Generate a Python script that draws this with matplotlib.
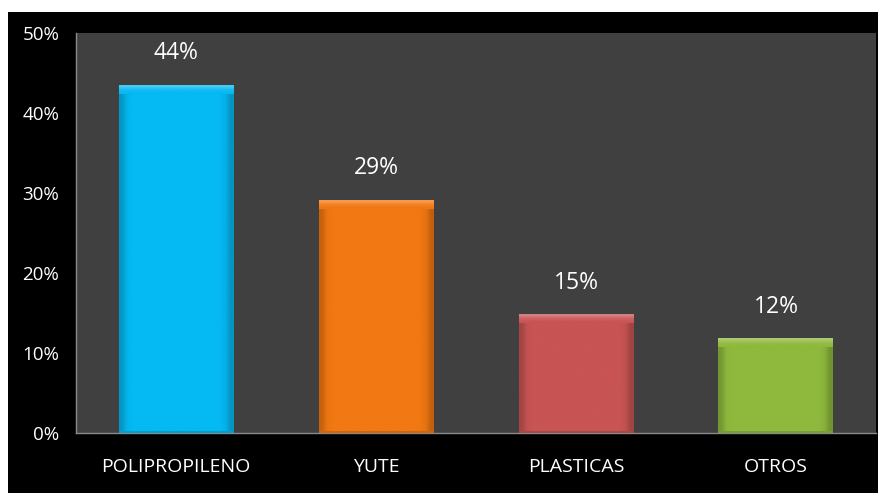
import matplotlib
matplotlib.use('Agg')
from matplotlib import pyplot as plt
from matplotlib.patches import Rectangle
from matplotlib.ticker import MultipleLocator, FuncFormatter
import numpy as np

categories = ['POLIPROPILENO', 'YUTE', 'PLASTICAS', 'OTROS']
values = [43.5, 29.1, 14.8, 11.8]
colors = ['#05b9f2', '#f17812', '#c85454', '#8eb93d']

plt.rcParams['font.family'] = ['Open Sans', 'DejaVu Sans']


def shade(hex_color, f):
    c = np.array(matplotlib.colors.to_rgb(hex_color))
    if f > 0:
        c = c + (1 - c) * f
    else:
        c = c * (1 + f)
    return tuple(np.clip(c, 0, 1))


def main():
    fig = plt.figure(figsize=(8.79, 4.93), dpi=100, facecolor='white')
    # black slide background, offset from the top/left edge
    fig.add_artist(Rectangle((8 / 879, 0), 1, 481 / 493, transform=fig.transFigure,
                             facecolor='black', edgecolor='none', zorder=-5))

    ax = fig.add_axes([76 / 879, 60 / 493, 800 / 879, 400 / 493])
    ax.set_facecolor('#404040')

    x = np.arange(len(categories))
    width = 0.575
    bars = ax.bar(x, values, width=width, color=colors, edgecolor='none', zorder=2)

    # bevel look: slightly darker sides, light top edge
    for b, v, c in zip(bars, values, colors):
        x0 = b.get_x()
        steps = [-0.18, -0.02] + [0.0] * 16 + [-0.04, -0.2]
        grad = np.array([[shade(c, f) for f in steps]])
        ax.imshow(grad, extent=(x0, x0 + width, 0, v), aspect='auto',
                  interpolation='bilinear', zorder=3)
        top = np.array([[shade(c, 0.25)], [shade(c, 0.08)], [shade(c, 0.0)]])
        ax.imshow(top, extent=(x0, x0 + width, v - 1.1, v), aspect='auto',
                  interpolation='bilinear', zorder=4)
        ax.bar(b.get_x() + width / 2, 0.25, bottom=0, width=width,
               color=shade(c, -0.15), edgecolor='none', zorder=4)

    for xi, v in zip(x, values):
        ax.annotate('%.0f%%' % v, (xi, v), xytext=(0, 23), textcoords='offset points',
                    ha='center', va='center', color='white', fontsize=16.5)

    ax.set_xlim(-0.5, len(categories) - 0.5)
    ax.set_ylim(0, 50)
    ax.yaxis.set_major_locator(MultipleLocator(10))
    ax.yaxis.set_major_formatter(FuncFormatter(lambda v, p: '%d%%' % v))
    ax.set_xticks(x)
    ax.set_xticklabels(categories)
    ax.tick_params(axis='both', length=0, colors='white', labelsize=14)
    ax.tick_params(axis='y', labelsize=13.5, pad=12)
    ax.tick_params(axis='x', pad=18)

    for s in ['top', 'right']:
        ax.spines[s].set_visible(False)
    for s in ['left', 'bottom']:
        ax.spines[s].set_color('#8a8a8a')
        ax.spines[s].set_linewidth(1)

    plt.savefig('out.png', dpi=100, facecolor=fig.get_facecolor())


main()
